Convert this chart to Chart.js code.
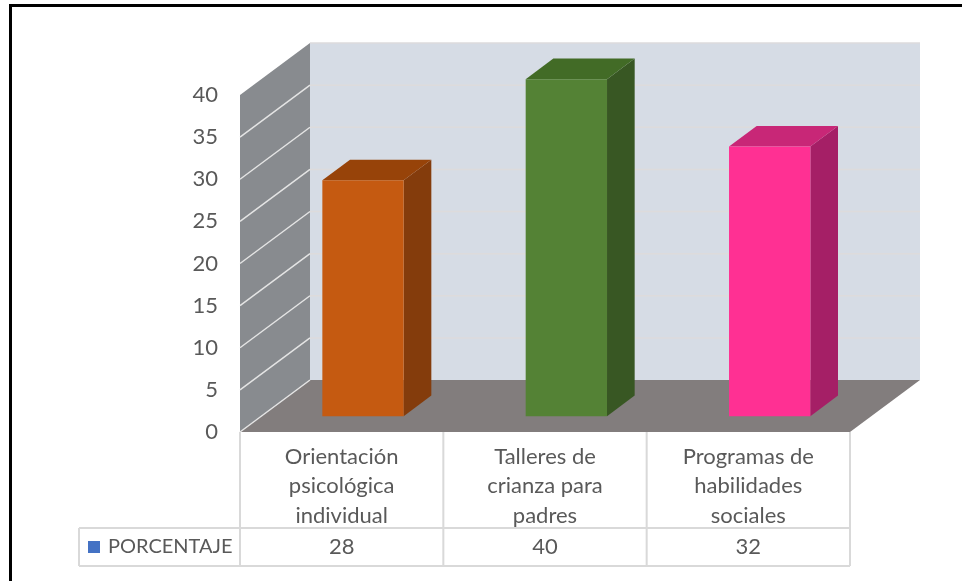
<!DOCTYPE html>
<html>
<head>
<meta charset="utf-8">
<title>Porcentaje</title>
<script src="https://cdn.jsdelivr.net/npm/chart.js@4/dist/chart.umd.min.js"></script>
<style>
  html, body { margin: 0; padding: 0; background: #fff; }
  canvas { display: block; }
</style>
</head>
<body>
<canvas id="chart" width="962" height="583"></canvas>
<script>
const categories = [
    ["Orientación", "psicológica", "individual"],
    ["Talleres de", "crianza para", "padres"],
    ["Programas de", "habilidades", "sociales"]
];
const seriesName = "PORCENTAJE";
const values = [28, 40, 32];
const frontColors = ["#c55a11", "#548235", "#ff3093"];
const topColors = ["#974309", "#426b26", "#c82777"];
const sideColors = ["#843c0c", "#385723", "#a51f66"];

const fontName = "Lato";
const textColor = "#595959";
const tableLine = "#d9d9d9";

// depth of the fake 3d box, in pixels
const depthX = 70;
const depthY = 52;
// bars sit between these two fractions of the depth
const barNear = 0.305;
const barFar = 0.70;

function shape(ctx, points, color) {
    ctx.beginPath();
    ctx.moveTo(points[0][0], points[0][1]);
    for (let i = 1; i < points.length; i++) {
        ctx.lineTo(points[i][0], points[i][1]);
    }
    ctx.closePath();
    ctx.fillStyle = color;
    ctx.fill();
}

const box3d = {
    id: "box3d",
    beforeDraw(chart) {
        // black frame of the screenshot, no right or bottom side
        const ctx = chart.ctx;
        ctx.fillStyle = "#000";
        ctx.fillRect(9, 4, 953, 3);
        ctx.fillRect(9, 4, 3, 577);
    },
    beforeDatasetsDraw(chart) {
        const ctx = chart.ctx;
        const area = chart.chartArea;
        const yScale = chart.scales.y;
        const l = area.left, r = area.right, t = area.top, b = area.bottom;

        // back wall, left wall, floor
        shape(ctx, [[l + depthX, t - depthY], [r + depthX, t - depthY], [r + depthX, b - depthY], [l + depthX, b - depthY]], "#d6dce5");
        shape(ctx, [[l, t], [l + depthX, t - depthY], [l + depthX, b - depthY], [l, b]], "#888b8f");
        shape(ctx, [[l, b], [r, b], [r + depthX, b - depthY], [l + depthX, b - depthY]], "#827d7d");

        // gridlines from the value axis
        yScale.ticks.forEach((tick) => {
            const y = yScale.getPixelForValue(tick.value);
            ctx.beginPath();
            if (tick.value > 0) {
                ctx.moveTo(l + depthX, y - depthY);
                ctx.lineTo(r + depthX, y - depthY);
                ctx.strokeStyle = "#dddbdc";
                ctx.lineWidth = 1.5;
                ctx.stroke();
                ctx.beginPath();
            }
            ctx.moveTo(l, y);
            ctx.lineTo(l + depthX, y - depthY);
            ctx.strokeStyle = "#e4e4e4";
            ctx.lineWidth = 1.5;
            if (tick.value < yScale.max) {
                ctx.stroke();
            }
        });

        // top and side faces, taken from the bars chart.js laid out
        const nx = depthX * barNear, ny = depthY * barNear;
        const fx = depthX * barFar, fy = depthY * barFar;
        chart.getDatasetMeta(0).data.forEach((bar, i) => {
            const left = bar.x - bar.width / 2;
            const right = bar.x + bar.width / 2;
            shape(ctx, [[right + nx, bar.base - ny], [right + fx, bar.base - fy], [right + fx, bar.y - fy], [right + nx, bar.y - ny]], sideColors[i]);
            shape(ctx, [[left + nx, bar.y - ny], [right + nx, bar.y - ny], [right + fx, bar.y - fy], [left + fx, bar.y - fy]], topColors[i]);
        });

        // chart.js draws the front faces, moved back into the box
        ctx.save();
        ctx.translate(nx, -ny);
    },
    afterDatasetsDraw(chart) {
        chart.ctx.restore();
    },
    afterDraw(chart) {
        // data table under the axis
        const ctx = chart.ctx;
        const area = chart.chartArea;
        const xScale = chart.scales.x;
        const rowTop = 528;
        const rowBottom = 566;
        const tableLeft = 79;
        const band = (area.right - area.left) / categories.length;

        ctx.strokeStyle = tableLine;
        ctx.lineWidth = 2;
        ctx.beginPath();
        for (let i = 0; i <= categories.length; i++) {
            ctx.moveTo(area.left + band * i, area.bottom);
            ctx.lineTo(area.left + band * i, rowBottom);
        }
        ctx.moveTo(tableLeft, rowTop);
        ctx.lineTo(area.right, rowTop);
        ctx.moveTo(tableLeft, rowBottom);
        ctx.lineTo(area.right, rowBottom);
        ctx.moveTo(tableLeft, rowTop);
        ctx.lineTo(tableLeft, rowBottom);
        ctx.stroke();

        ctx.fillStyle = textColor;
        ctx.textBaseline = "middle";
        ctx.textAlign = "center";
        ctx.font = "22px " + fontName;
        values.forEach((v, i) => {
            ctx.fillText(String(v), xScale.getPixelForValue(i), (rowTop + rowBottom) / 2);
        });
        ctx.textAlign = "left";
        ctx.font = "20px " + fontName;
        ctx.fillText(seriesName, 108, (rowTop + rowBottom) / 2);
        ctx.fillStyle = "#4472c4";
        ctx.fillRect(88, 541, 12, 12);
    }
};

new Chart(document.getElementById("chart"), {
    type: "bar",
    data: {
        labels: categories,
        datasets: [{
            label: seriesName,
            data: values,
            backgroundColor: frontColors,
            borderWidth: 0,
            barPercentage: 0.4,
            categoryPercentage: 1,
            clip: false
        }]
    },
    options: {
        responsive: false,
        animation: false,
        layout: { padding: { top: 95, right: 112, left: 0, bottom: 0 } },
        plugins: { legend: { display: false }, title: { display: false }, tooltip: { enabled: false } },
        scales: {
            x: {
                grid: { display: false },
                border: { display: false },
                ticks: {
                    color: textColor,
                    font: { family: fontName, size: 22, lineHeight: 1.341 },
                    padding: 2,
                    maxRotation: 0,
                    autoSkip: false
                },
                afterFit(scale) { scale.height = 151; }
            },
            y: {
                min: 0,
                max: 40,
                grid: { display: false },
                border: { display: false },
                ticks: {
                    stepSize: 5,
                    color: textColor,
                    font: { family: fontName, size: 22 },
                    padding: 14
                },
                afterFit(scale) { scale.width = 240; }
            }
        }
    },
    plugins: [box3d]
});
</script>
</body>
</html>
